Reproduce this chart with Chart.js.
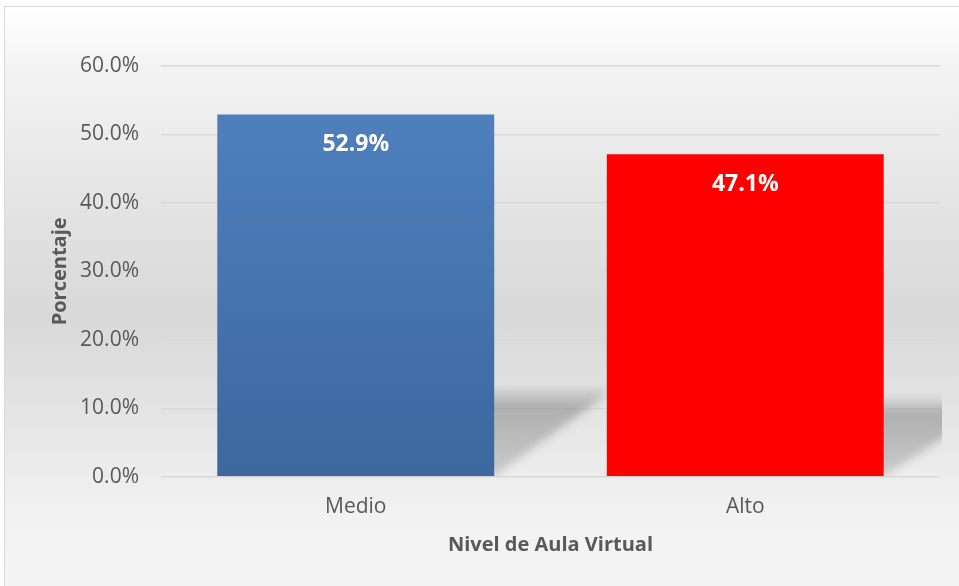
<!DOCTYPE html>
<html><head><meta charset="utf-8">
<script src="https://cdn.jsdelivr.net/npm/chart.js@4.4.1/dist/chart.umd.min.js"></script>
<style>
html,body{margin:0;padding:0;background:#fff;width:959px;height:586px;overflow:hidden;}
#frame{position:absolute;left:4px;top:6px;width:980px;height:600px;border:1px solid #d9d9d9;
background:linear-gradient(to bottom,#ffffff 0%,#f3f3f3 10%,#dcdcdc 45%,#d9d9d9 52%,#e6e6e6 70%,#f2f2f2 85%,#f5f5f5 100%);}
#wrap{position:absolute;left:0;top:0;width:959px;height:586px;}
</style></head>
<body>
<div id="frame"></div>
<div id="wrap"><canvas id="c" width="959" height="586"></canvas></div>
<script>
const categories = ["Medio", "Alto"];
const values = [52.9, 47.1];
const yTicks = [0, 10, 20, 30, 40, 50, 60];
const yTitle = "Porcentaje";
const xTitle = "Nivel de Aula Virtual";

const FONT = "'Open Sans', 'Noto Sans', sans-serif";

const shadowPlugin = {
  id: 'shadow',
  beforeDatasetsDraw(chart) {
    const ctx = chart.ctx, area = chart.chartArea;
    const meta = chart.getDatasetMeta(0);
    ctx.save();
    ctx.beginPath();
    ctx.rect(area.left, area.top, area.right - area.left + 2, area.bottom - area.top);
    ctx.clip();
    ctx.filter = 'blur(4px)';
    meta.data.forEach(bar => {
      const left = bar.x - bar.width / 2, right = bar.x + bar.width / 2;
      const base = bar.base, h = base - bar.y;
      const top = base - 0.24 * h;
      const dx = 112;
      const g = ctx.createLinearGradient(0, top, 0, base);
      g.addColorStop(0, 'rgba(120,120,120,0.15)');
      g.addColorStop(0.2, 'rgba(110,110,110,0.45)');
      g.addColorStop(1, 'rgba(140,140,140,0.35)');
      ctx.fillStyle = g;
      ctx.beginPath();
      ctx.moveTo(left, base);
      ctx.lineTo(right, base);
      ctx.lineTo(right + dx, top + 6);
      ctx.lineTo(right + dx, top);
      ctx.lineTo(left + dx, top);
      ctx.closePath();
      ctx.fill();
    });
    ctx.restore();
  }
};

const labelPlugin = {
  id: 'vlabels',
  afterDatasetsDraw(chart) {
    const ctx = chart.ctx;
    const meta = chart.getDatasetMeta(0);
    ctx.save();
    ctx.fillStyle = '#ffffff';
    ctx.font = "bold 23px " + FONT;
    ctx.textAlign = 'center';
    ctx.textBaseline = 'middle';
    meta.data.forEach((bar, i) => {
      ctx.fillText(values[i].toFixed(1) + '%', bar.x, bar.y + 30);
    });
    ctx.restore();
  }
};

const ctx = document.getElementById('c').getContext('2d');
const barColor = (context) => {
  if (context.dataIndex === 1) return '#ff0000';
  const chart = context.chart;
  const a = chart.chartArea;
  if (!a) return '#4a7ab8';
  const g = chart.ctx.createLinearGradient(0, a.top, 0, a.bottom);
  g.addColorStop(0, '#5183c0');
  g.addColorStop(1, '#3c679f');
  return g;
};

new Chart(ctx, {
  type: 'bar',
  data: {
    labels: categories,
    datasets: [{
      data: values,
      backgroundColor: barColor,
      borderWidth: 0,
      categoryPercentage: 0.711,
      barPercentage: 1.0
    }]
  },
  options: {
    responsive: false,
    animation: false,
    devicePixelRatio: 1,
    layout: { padding: { left: 40, right: 19, top: 66, bottom: 29 } },
    plugins: { legend: { display: false }, tooltip: { enabled: false } },
    scales: {
      x: {
        grid: { display: false, drawTicks: false },
        border: { display: false },
        ticks: { color: '#595959', font: { family: FONT, size: 21 }, padding: 18 },
        title: { display: true, text: xTitle, color: '#595959', font: { family: FONT, size: 20, weight: 'bold' }, padding: { top: -5, bottom: 0 } }
      },
      y: {
        min: 0, max: 60,
        afterBuildTicks(scale) { scale.ticks = yTicks.map(v => ({ value: v })); },
        afterFit(scale) { scale.width = 121; },
        grid: { color: '#d9d9d9', lineWidth: 1.5, drawTicks: false },
        border: { display: false },
        ticks: { color: '#595959', font: { family: FONT, size: 21 }, padding: 22,
          callback: v => v.toFixed(1) + '%' },
        title: { display: true, text: yTitle, color: '#595959', font: { family: FONT, size: 20, weight: 'bold' }, padding: { top: 8, bottom: 0 } }
      }
    }
  },
  plugins: [shadowPlugin, labelPlugin]
});
</script>
</body></html>
